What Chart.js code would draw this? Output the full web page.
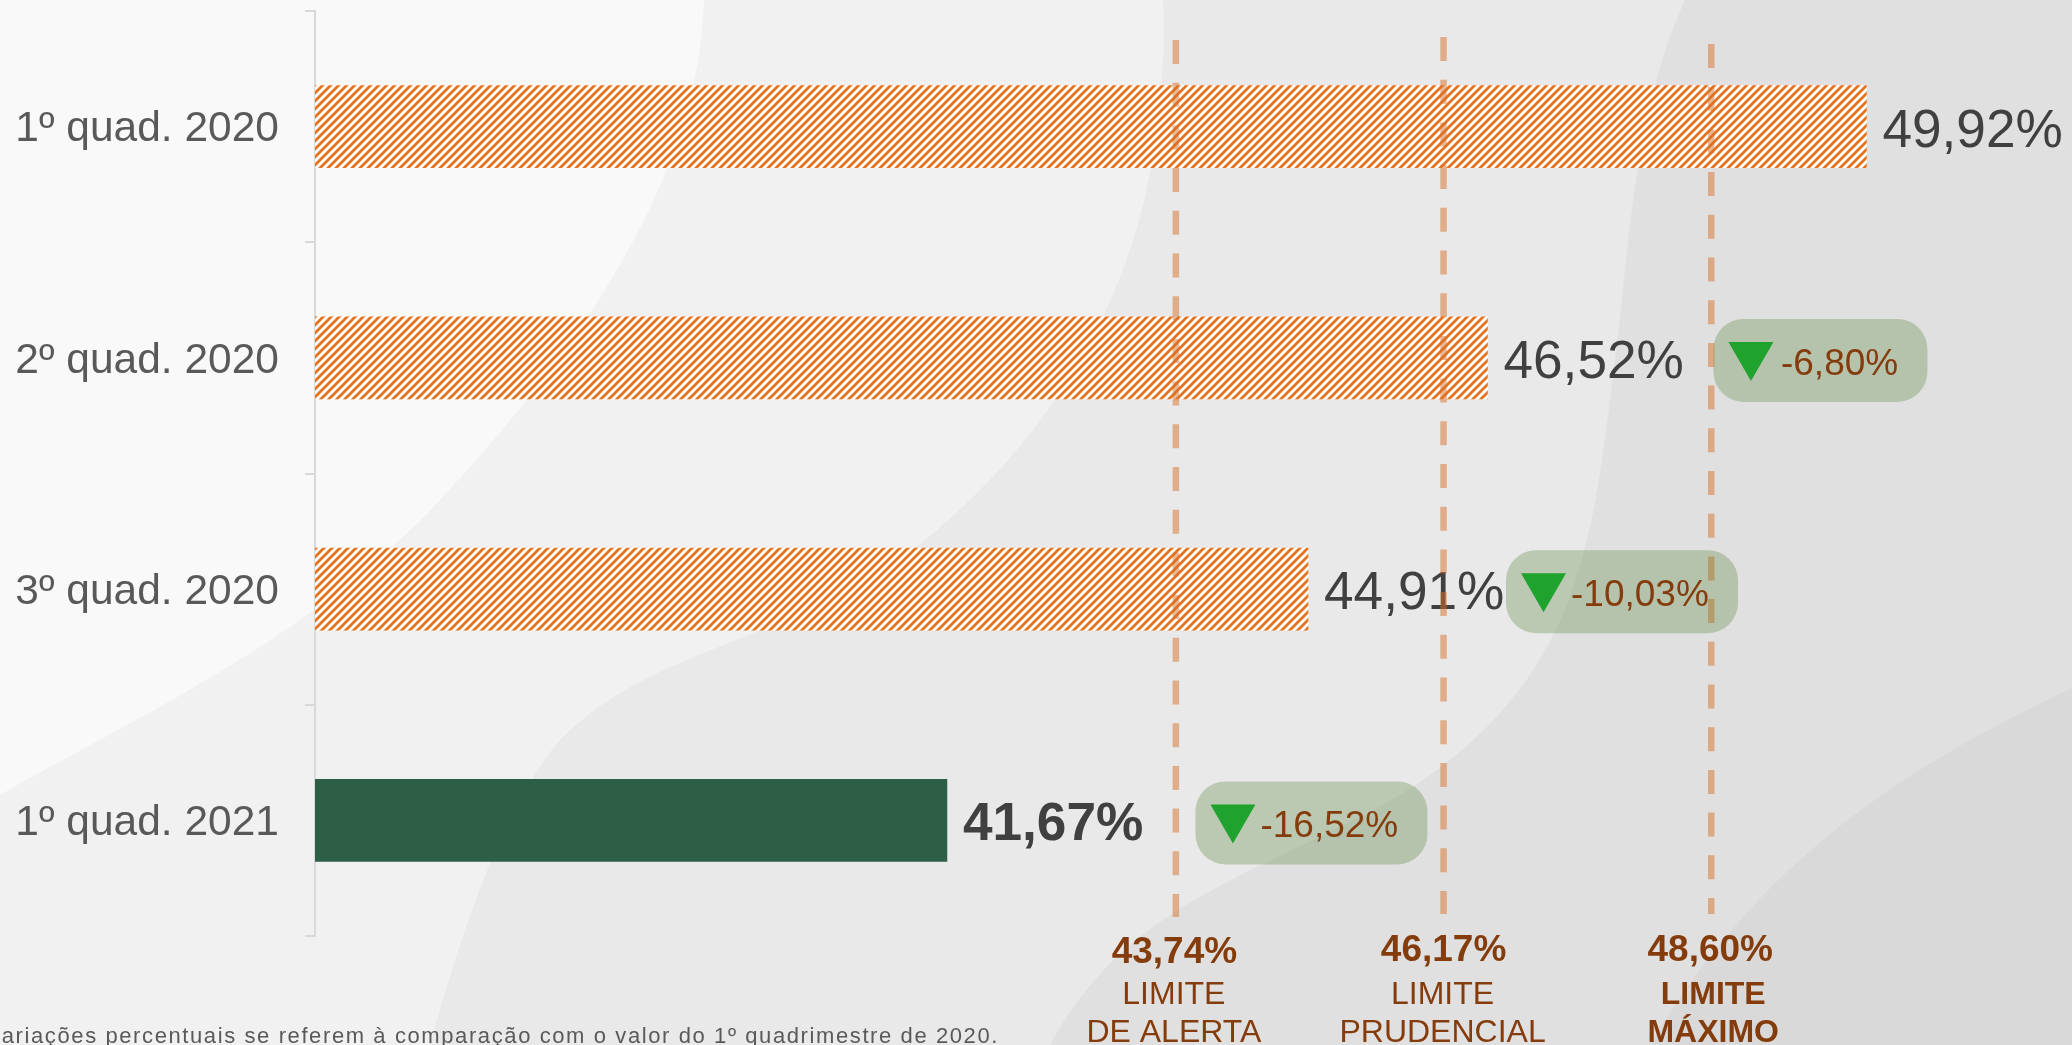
<!DOCTYPE html>
<html><head><meta charset="utf-8">
<style>html,body{margin:0;padding:0;background:#f1f1f1;overflow:hidden}canvas{display:block}</style>
<script src="https://cdn.jsdelivr.net/npm/chart.js@4"></script></head>
<body><div style="width:2072px;height:1045px"><canvas id="c"></canvas></div>
<script>
const categories = ['1º quad. 2020','2º quad. 2020','3º quad. 2020','1º quad. 2021'];
const values = [49.92,46.52,44.91,41.67];
const variations = [null,-6.80,-10.03,-16.52];
const limits = [43.74,46.17,48.60];
const limitNames = [['LIMITE','DE ALERTA'],['LIMITE','PRUDENCIAL'],['LIMITE','MÁXIMO']];
const footnote = 'variações percentuais se referem à comparação com o valor do 1º quadrimestre de 2020.';
const FONT = '"Liberation Sans", Arial, sans-serif';
const fmt = v => v.toFixed(2).replace('.',',') + '%';

function hatch(){
  const p=document.createElement('canvas');p.width=8;p.height=8;
  const g=p.getContext('2d');g.fillStyle='#ffffff';g.fillRect(0,0,8,8);
  g.strokeStyle='#e4731f';g.lineWidth=2.7;
  [[-4,4,4,-4],[0,8,8,0],[4,12,12,4]].forEach(l=>{g.beginPath();g.moveTo(l[0],l[1]);g.lineTo(l[2],l[3]);g.stroke();});
  return g.createPattern(p,'repeat');
}
function poly(ctx,pts,fill){
  ctx.fillStyle=fill;ctx.beginPath();ctx.moveTo(pts[0][0],pts[0][1]);
  for(let i=1;i<pts.length;i++){const a=pts[i];if(a.length===6)ctx.bezierCurveTo(...a);else ctx.lineTo(a[0],a[1]);}
  ctx.closePath();ctx.fill();
}
const backdrop={id:'backdrop',beforeDraw(c){
  const x=c.ctx;x.save();
  x.fillStyle='#f9f9f9';x.fillRect(0,0,2072,1045);
  poly(x,[[704,0],[700,160,600,330,440,500],[310,640,130,720,0,795],[0,1045],[2072,1045],[2072,0]],'#f1f1f1');
  poly(x,[[1163,0],[1170,200,1110,400,900,560],[760,650,650,650,560,740],[500,810,460,940,430,1045],[2072,1045],[2072,0]],'#e9e9e9');
  poly(x,[[1685,0],[1630,120,1630,260,1610,400],[1590,560,1570,690,1400,795],[1250,880,1130,900,1050,1045],[2072,1045],[2072,0]],'#e0e0e0');
  poly(x,[[2072,688],[1900,770,1760,860,1650,1045],[2072,1045]],'#d9d9d9');
  x.restore();
}};
const overlay={id:'overlay',afterDatasetsDraw(c){
  const x=c.ctx,meta=c.getDatasetMeta(0),lx=c.scales.xLimit;
  const pillGap=[0,226,198,248.5],pillW=[0,214,232,232];
  x.save();
  x.textBaseline='alphabetic';
  values.forEach((v,i)=>{const b=meta.data[i];
    x.font=(i===3?'bold ':'')+'53.2px '+FONT;x.fillStyle='#404040';x.textAlign='left';
    x.fillText(fmt(v),b.x+16,b.y+20);
  });
  const tops=[40,37,44],bots=[917,914,914],textDx=[-2,-1,2],numDx=[-1.5,0,-1];
  limits.forEach((v,i)=>{const px=lx.getPixelForValue(v);
    x.strokeStyle='rgba(214,114,42,0.5)';x.lineWidth=6.5;x.setLineDash([24,18.7]);
    x.beginPath();x.moveTo(px,tops[i]);x.lineTo(px,bots[i]);x.stroke();x.setLineDash([]);
    x.textAlign='center';x.fillStyle='#843c0c';
    const by=[963,961,961][i];
    x.font='bold 37px '+FONT;x.fillText(fmt(v),px+numDx[i],by);
    x.font=(i===2?'bold ':'')+'32px '+FONT;
    x.fillText(limitNames[i][0],px+textDx[i],1004);
    x.fillText(limitNames[i][1],px+textDx[i],1042);
  });
  variations.forEach((d,i)=>{ if(d===null)return; const b=meta.data[i];
    const L=b.x+pillGap[i],T=b.y-39,W=pillW[i],H=83;
    x.fillStyle='rgba(87,130,53,0.3)';x.beginPath();x.roundRect(L,T,W,H,30);x.fill();
    x.fillStyle='#1fa22e';x.beginPath();x.moveTo(L+15,T+23);x.lineTo(L+60,T+23);x.lineTo(L+37.5,T+62);x.closePath();x.fill();
    x.fillStyle='#843c0c';x.font='37px '+FONT;x.textAlign='left';
    x.fillText(fmt(d),L+(i===1?67.5:65),T+56);
  });
  x.fillStyle='#595959';x.font='22px '+FONT;x.textAlign='right';x.letterSpacing='1.6px';
  x.fillText(footnote,999,1043);
  x.letterSpacing='0px';
  x.restore();
}};
new Chart(document.getElementById('c'),{
  type:'bar',
  data:{labels:categories,datasets:[{data:values,barThickness:82,borderWidth:0,
    backgroundColor:[hatch(),hatch(),hatch(),'#2d5f46']}]},
  options:{indexAxis:'y',responsive:true,maintainAspectRatio:false,animation:false,
    layout:{autoPadding:false,padding:{top:11,bottom:109,left:0,right:0}},
    plugins:{legend:{display:false},tooltip:{enabled:false}},
    scales:{
      x:{display:false,min:36,max:51.765},
      xLimit:{display:false,axis:'x',type:'linear',min:35.925,max:51.875},
      y:{afterFit(s){s.width=315;s.paddingTop=0;s.paddingBottom=0;},
        grid:{drawOnChartArea:false,offset:true,tickLength:10,color:'#d9d9d9',lineWidth:2},
        border:{color:'#d9d9d9',width:2},
        ticks:{color:'#595959',padding:26,labelOffset:3,font:{family:FONT,size:42.5}}}
    }},
  plugins:[backdrop,overlay]
});
</script></body></html>
